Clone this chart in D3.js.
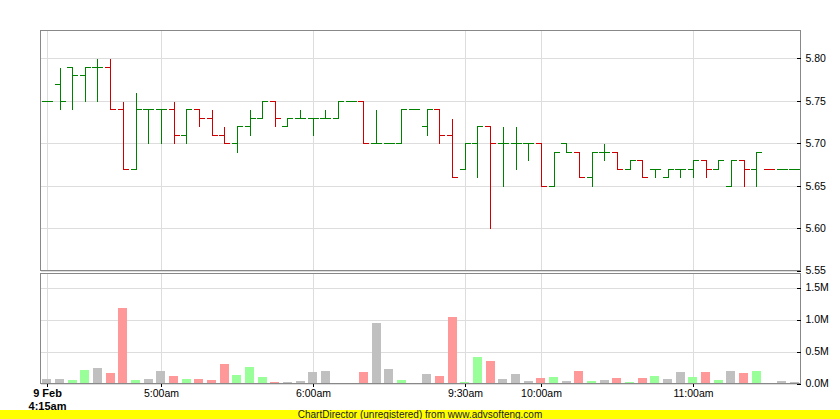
<!DOCTYPE html>
<head>
    <title>Finance Chart</title>
    <meta charset="utf-8">
    <style>
        body { margin: 0; background: #fff; }
        svg { display: block; font-family: "Liberation Sans", Arial, sans-serif; }
    </style>
</head>

<body>
    <div id="chart"></div>

    <script src="https://d3js.org/d3.v7.min.js"></script>
    <script>
        // 5-minute bars, 9 Feb
        var opens  = [5.75,5.77,5.79,5.78,5.79,5.79,5.74,5.67,5.74,5.74, 5.74,5.71,5.74,5.73,5.71,5.70,5.72,5.73,5.75,5.72,
                      5.73,5.73,5.73,5.73,5.75,5.75,5.70,5.70,5.70,5.74, 5.72,5.74,5.71,5.67,5.70,5.72,5.70,5.70,5.70,5.70,
                      5.65,5.70,5.69,5.66,5.69,5.69,5.67,5.68,5.67,5.66, 5.67,5.67,5.68,5.67,5.65,5.68,5.67,5.67,5.67,5.67];
        var highs  = [5.75,5.79,5.79,5.79,5.80,5.80,5.75,5.76,5.74,5.74, 5.75,5.74,5.74,5.74,5.72,5.72,5.74,5.75,5.75,5.73,
                      5.74,5.73,5.74,5.75,5.75,5.75,5.74,5.70,5.74,5.74, 5.74,5.74,5.73,5.70,5.72,5.72,5.72,5.72,5.70,5.70,
                      5.69,5.70,5.69,5.69,5.70,5.69,5.68,5.68,5.67,5.67, 5.67,5.68,5.68,5.68,5.68,5.68,5.69,5.67,5.67,5.67];
        var lows   = [5.75,5.74,5.74,5.75,5.75,5.74,5.67,5.67,5.70,5.70, 5.70,5.70,5.72,5.71,5.70,5.69,5.71,5.73,5.72,5.72,
                      5.73,5.71,5.73,5.73,5.75,5.70,5.70,5.70,5.70,5.74, 5.71,5.70,5.66,5.67,5.66,5.60,5.65,5.67,5.68,5.65,
                      5.65,5.69,5.66,5.65,5.68,5.67,5.67,5.66,5.66,5.66, 5.66,5.66,5.66,5.67,5.65,5.65,5.65,5.67,5.67,5.67];
        var closes = [5.75,5.75,5.78,5.79,5.79,5.74,5.67,5.74,5.74,5.74, 5.71,5.74,5.73,5.71,5.70,5.72,5.73,5.75,5.73,5.73,
                      5.73,5.73,5.73,5.75,5.75,5.70,5.70,5.70,5.74,5.74, 5.74,5.71,5.66,5.70,5.72,5.70,5.70,5.70,5.70,5.65,
                      5.69,5.69,5.66,5.69,5.69,5.67,5.68,5.66,5.67,5.67, 5.67,5.68,5.67,5.68,5.68,5.67,5.69,5.67,5.67,5.67];
        // volume in millions
        var volumes = [0.068,0.068,0.052,0.21,0.24,0.16,1.18,0.052,0.068,0.19, 0.115,0.068,0.068,0.052,0.30,0.13,0.255,0.10,0.02,0.02,
                       0.036,0.18,0.19,0,0,0.18,0.94,0.22,0.05,0, 0.146,0.115,1.04,0.02,0.41,0.35,0.068,0.146,0.036,0.083,
                       0.10,0.036,0.19,0.036,0.052,0.083,0.02,0.083,0.115,0.068, 0.18,0.10,0.18,0.052,0.19,0.16,0.19,0,0.036,0.02];

        var tickBars   = [0, 9, 21, 33, 39, 51];
        var tickLabels = [["9 Feb", "4:15am"], ["5:00am"], ["6:00am"], ["9:30am"], ["10:00am"], ["11:00am"]];
        var priceTicks = [5.55, 5.60, 5.65, 5.70, 5.75, 5.80];
        var volTicks   = [0, 0.5, 1.0, 1.5];

        var W = 840, H = 419;
        var left = 40.5, right = 800.5;
        var priceTop = 30.5, priceBottom = 270.5;
        var volTop = 273.5, volBottom = 383.5;

        var svg = d3.select("#chart").append("svg")
            .attr("width", W).attr("height", H);

        var idx = d3.range(opens.length);
        var x = d3.scaleBand().domain(idx).range([left, right]).padding(0);
        var cx = i => x(i) + x.bandwidth() / 2;

        var y = d3.scaleLinear().domain([5.55, 5.833]).range([priceBottom, priceTop]);
        var yv = d3.scaleLinear().domain([0, 1.72]).range([volBottom, volTop]);

        // color by close vs previous close
        function dir(i) {
            if (i == 0) return 0;
            return closes[i] > closes[i - 1] ? 1 : (closes[i] < closes[i - 1] ? -1 : 0);
        }

        // panels
        [[priceTop, priceBottom], [volTop, volBottom]].forEach(function(p) {
            svg.append("rect")
                .attr("x", left).attr("y", p[0])
                .attr("width", right - left).attr("height", p[1] - p[0])
                .attr("fill", "#fff");
        });

        // grid
        var grid = svg.append("g").attr("stroke", "#dddddd").attr("shape-rendering", "crispEdges");
        priceTicks.forEach(function(v) {
            grid.append("line").attr("x1", left).attr("x2", right)
                .attr("y1", Math.round(y(v)) + 0.5).attr("y2", Math.round(y(v)) + 0.5);
        });
        volTicks.forEach(function(v) {
            grid.append("line").attr("x1", left).attr("x2", right)
                .attr("y1", Math.round(yv(v)) + 0.5).attr("y2", Math.round(yv(v)) + 0.5);
        });
        tickBars.forEach(function(b) {
            var gx = Math.round(cx(b)) + 0.5;
            grid.append("line").attr("x1", gx).attr("x2", gx).attr("y1", priceTop).attr("y2", priceBottom);
            grid.append("line").attr("x1", gx).attr("x2", gx).attr("y1", volTop).attr("y2", volBottom);
        });

        // HLOC bars
        var tick = 5;
        var bars = svg.append("g").attr("shape-rendering", "crispEdges").attr("stroke-width", 1)
            .selectAll("g").data(idx).enter().append("g")
            .attr("stroke", i => dir(i) < 0 ? "#cc0000" : "#008000");
        bars.append("line")
            .attr("x1", i => Math.round(cx(i)) + 0.5).attr("x2", i => Math.round(cx(i)) + 0.5)
            .attr("y1", i => Math.round(y(highs[i])) + 0.5).attr("y2", i => Math.round(y(lows[i])) + 0.5);
        bars.append("line")
            .attr("x1", i => Math.round(cx(i)) - tick).attr("x2", i => Math.round(cx(i)) + 1)
            .attr("y1", i => Math.round(y(opens[i])) + 0.5).attr("y2", i => Math.round(y(opens[i])) + 0.5);
        bars.append("line")
            .attr("x1", i => Math.round(cx(i))).attr("x2", i => Math.round(cx(i)) + tick + 1)
            .attr("y1", i => Math.round(y(closes[i])) + 0.5).attr("y2", i => Math.round(y(closes[i])) + 0.5);

        // volume bars
        var vw = 9;
        svg.append("g").attr("shape-rendering", "crispEdges")
            .selectAll("rect").data(idx.filter(i => volumes[i] > 0)).enter().append("rect")
            .attr("x", i => Math.round(cx(i) - vw / 2))
            .attr("width", vw)
            .attr("y", i => yv(volumes[i]))
            .attr("height", i => volBottom - yv(volumes[i]))
            .attr("fill", i => dir(i) > 0 ? "#99ff99" : (dir(i) < 0 ? "#ff9999" : "#c0c0c0"));

        // frames
        [[priceTop, priceBottom], [volTop, volBottom]].forEach(function(p) {
            svg.append("rect")
                .attr("x", left).attr("y", p[0])
                .attr("width", right - left).attr("height", p[1] - p[0])
                .attr("fill", "none").attr("stroke", "#888888")
                .attr("shape-rendering", "crispEdges");
        });

        // right axes
        svg.append("g")
            .attr("transform", "translate(" + right + ",0)")
            .call(d3.axisRight(y).tickValues(priceTicks).tickFormat(d3.format(".2f"))
                .tickSizeInner(-4).tickSizeOuter(0).tickPadding(5))
            .call(g => g.select(".domain").remove());
        svg.append("g")
            .attr("transform", "translate(" + right + ",0)")
            .call(d3.axisRight(yv).tickValues(volTicks).tickFormat(v => d3.format(".1f")(v) + "M")
                .tickSizeInner(-4).tickSizeOuter(0).tickPadding(5))
            .call(g => g.select(".domain").remove());
        svg.selectAll(".tick text").attr("font-size", "10.5px").attr("fill", "#000")
            .attr("font-family", "'Liberation Sans', Arial, sans-serif");
        svg.selectAll(".tick line").attr("stroke", "#000").attr("shape-rendering", "crispEdges");

        // x axis
        var xa = svg.append("g").attr("shape-rendering", "crispEdges");
        tickBars.forEach(function(b, k) {
            var gx = Math.round(cx(b)) + 0.5;
            xa.append("line").attr("x1", gx).attr("x2", gx)
                .attr("y1", volBottom).attr("y2", volBottom + 3).attr("stroke", "#000");
            tickLabels[k].forEach(function(t, j) {
                svg.append("text")
                    .attr("x", gx).attr("y", 397 + j * 12.5)
                    .attr("text-anchor", "middle")
                    .attr("font-size", k == 0 ? "11px" : "10.5px")
                    .attr("font-weight", k == 0 ? "bold" : "normal")
                    .text(t);
            });
        });

        // banner
        svg.append("rect").attr("x", 0).attr("y", 410).attr("width", W).attr("height", 9).attr("fill", "#ffff00");
        svg.append("text").attr("x", W / 2).attr("y", 418)
            .attr("text-anchor", "middle").attr("font-size", "10px").attr("fill", "#222")
            .text("ChartDirector (unregistered) from www.advsofteng.com");
    </script>

</body>
</html>
